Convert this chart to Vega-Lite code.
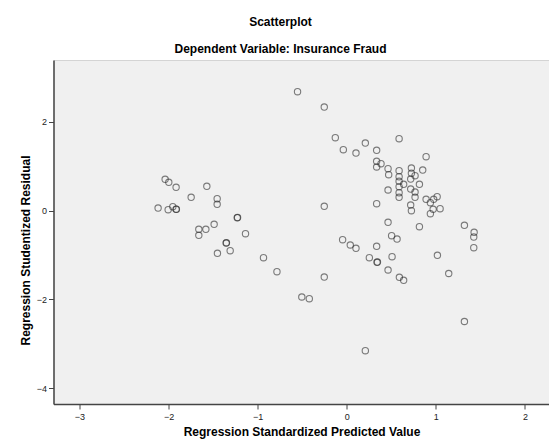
{
  "$schema": "https://vega.github.io/schema/vega-lite/v6.json",
  "width": 496,
  "height": 344,
  "autosize": {"type": "none"},
  "padding": {"left": 53.5, "top": 60, "right": 0, "bottom": 40},
  "background": "white",
  "title": {
    "text": "Scatterplot",
    "subtitle": "Dependent Variable: Insurance Fraud",
    "font": "Liberation Sans",
    "fontSize": 12,
    "fontWeight": "bold",
    "color": "#000",
    "subtitleFont": "Liberation Sans",
    "subtitleFontSize": 12,
    "subtitleFontWeight": "bold",
    "subtitleColor": "#000",
    "subtitlePadding": 15,
    "anchor": "middle",
    "dx": -21,
    "offset": 4
  },
  "config": {
    "view": {"fill": "#f0f0f0", "stroke": "#d4d4d4", "strokeWidth": 1},
    "axis": {
      "labelFont": "Liberation Sans",
      "labelFontSize": 9,
      "labelColor": "#222",
      "titleFont": "Liberation Sans",
      "titleFontSize": 12,
      "titleFontWeight": "bold",
      "titleColor": "#000",
      "domainColor": "#444",
      "domainWidth": 1.5,
      "tickColor": "#444",
      "tickWidth": 1,
      "tickSize": 5,
      "grid": false
    }
  },
  "data": {
    "values": [
      {"x": -2.038, "y": 0.703}, {"x": -1.997, "y": 0.635}, {"x": -1.915, "y": 0.523}, {"x": -1.570, "y": 0.545},
      {"x": -1.746, "y": 0.297}, {"x": -1.454, "y": 0.266}, {"x": -1.454, "y": 0.140}, {"x": -2.117, "y": 0.056},
      {"x": -2.004, "y": 0.018}, {"x": -1.952, "y": 0.086}, {"x": -1.915, "y": 0.027}, {"x": -1.912, "y": 0.030},
      {"x": -1.229, "y": -0.162}, {"x": -1.225, "y": -0.158}, {"x": -1.488, "y": -0.311}, {"x": -1.581, "y": -0.423},
      {"x": -1.660, "y": -0.423}, {"x": -1.660, "y": -0.559}, {"x": -1.136, "y": -0.523}, {"x": -1.353, "y": -0.732},
      {"x": -1.350, "y": -0.728}, {"x": -1.308, "y": -0.905}, {"x": -1.451, "y": -0.964}, {"x": -0.934, "y": -1.063},
      {"x": -0.783, "y": -1.378}, {"x": -0.552, "y": 2.676}, {"x": -0.252, "y": 2.331}, {"x": -0.252, "y": 0.095},
      {"x": -0.252, "y": -1.498}, {"x": -0.504, "y": -1.948}, {"x": -0.420, "y": -1.986},
      {"x": -0.128, "y": 1.640}, {"x": 0.588, "y": 1.617}, {"x": 0.209, "y": 1.520}, {"x": -0.038, "y": 1.369},
      {"x": 0.104, "y": 1.295}, {"x": 0.336, "y": 1.356}, {"x": 0.891, "y": 1.212}, {"x": 0.336, "y": 1.108},
      {"x": 0.385, "y": 1.054}, {"x": 0.336, "y": 0.980}, {"x": 0.464, "y": 0.941}, {"x": 0.471, "y": 0.806},
      {"x": 0.588, "y": 0.896}, {"x": 0.726, "y": 0.957}, {"x": 0.853, "y": 0.912}, {"x": 0.726, "y": 0.838},
      {"x": 0.767, "y": 0.784}, {"x": 0.588, "y": 0.761}, {"x": 0.718, "y": 0.709}, {"x": 0.588, "y": 0.658},
      {"x": 0.639, "y": 0.590}, {"x": 0.816, "y": 0.590}, {"x": 0.588, "y": 0.536}, {"x": 0.464, "y": 0.462},
      {"x": 0.718, "y": 0.484}, {"x": 0.767, "y": 0.417}, {"x": 0.588, "y": 0.401}, {"x": 0.588, "y": 0.297},
      {"x": 0.767, "y": 0.297}, {"x": 0.891, "y": 0.252}, {"x": 1.015, "y": 0.311}, {"x": 0.976, "y": 0.252},
      {"x": 0.939, "y": 0.176}, {"x": 0.718, "y": 0.124}, {"x": 0.970, "y": 0.027}, {"x": 1.048, "y": 0.041},
      {"x": 0.726, "y": -0.005}, {"x": 0.939, "y": -0.072}, {"x": 0.336, "y": 0.153}, {"x": 0.464, "y": -0.266},
      {"x": 0.816, "y": -0.365},
      {"x": -0.046, "y": -0.658}, {"x": 0.040, "y": -0.777}, {"x": 0.104, "y": -0.851}, {"x": 0.336, "y": -0.806},
      {"x": 0.504, "y": -0.568}, {"x": 0.565, "y": -0.642}, {"x": 0.254, "y": -1.063}, {"x": 0.340, "y": -1.167},
      {"x": 0.345, "y": -1.160}, {"x": 0.509, "y": -1.041}, {"x": 0.464, "y": -1.340}, {"x": 0.591, "y": -1.505},
      {"x": 0.639, "y": -1.572}, {"x": 0.209, "y": -3.158},
      {"x": 1.321, "y": -0.333}, {"x": 1.430, "y": -0.491}, {"x": 1.426, "y": -0.597}, {"x": 1.426, "y": -0.838},
      {"x": 1.018, "y": -1.009}, {"x": 1.145, "y": -1.419}, {"x": 1.321, "y": -2.500}
    ]
  },
  "mark": {"type": "point", "shape": "circle", "filled": false, "size": 40, "stroke": "#2a2a2a", "strokeWidth": 1.1, "strokeOpacity": 0.85},
  "encoding": {
    "x": {
      "field": "x", "type": "quantitative",
      "scale": {"domain": [-3.291, 2.276], "nice": false, "zero": false},
      "axis": {"values": [-3, -2, -1, 0, 1, 2], "title": "Regression Standardized Predicted Value", "titlePadding": 5, "labelPadding": 3}
    },
    "y": {
      "field": "y", "type": "quantitative",
      "scale": {"domain": [-4.358, 3.39], "nice": false, "zero": false},
      "axis": {"values": [-4, -2, 0, 2], "title": "Regression Studentized Residual", "titlePadding": 4, "labelPadding": 2, "titleY": 190}
    }
  }
}
